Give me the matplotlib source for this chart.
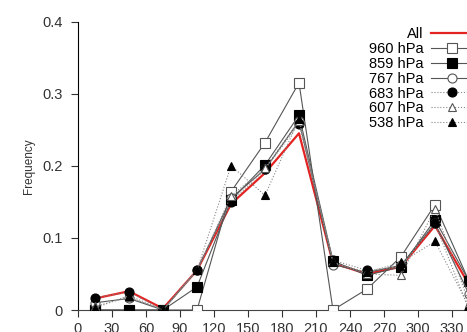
import matplotlib
matplotlib.use("Agg")
import matplotlib.pyplot as plt
import numpy as np

plt.rcParams['font.family'] = ['Liberation Sans', 'DejaVu Sans']

# bin centres (degrees)
bins = [15, 45, 75, 105, 135, 165, 195, 225, 255, 285, 315, 345]

freq_all = [0.016, 0.026, 0.002, 0.055, 0.147, 0.190, 0.245, 0.065, 0.050, 0.060, 0.117, 0.035]
freq_960 = [0.0, 0.0, 0.0, 0.0, 0.164, 0.232, 0.315, 0.0, 0.029, 0.074, 0.146, 0.040]
freq_859 = [0.0, 0.0, 0.0, 0.032, 0.152, 0.201, 0.270, 0.068, 0.048, 0.060, 0.125, 0.040]
freq_767 = [0.010, 0.016, 0.0, 0.055, 0.155, 0.195, 0.262, 0.063, 0.052, 0.062, 0.120, 0.022]
freq_683 = [0.017, 0.025, 0.0, 0.056, 0.150, 0.195, 0.258, 0.069, 0.055, 0.060, 0.120, 0.0]
freq_607 = [0.005, 0.018, 0.0, 0.055, 0.158, 0.197, 0.262, 0.066, 0.050, 0.048, 0.140, 0.010]
freq_538 = [0.003, 0.020, 0.0, 0.055, 0.200, 0.159, 0.265, 0.066, 0.052, 0.066, 0.095, 0.005]

levels = ['960 hPa', '859 hPa', '767 hPa', '683 hPa', '607 hPa', '538 hPa']
series = [freq_960, freq_859, freq_767, freq_683, freq_607, freq_538]
markers = ['s', 's', 'o', 'o', '^', '^']
filled = [False, True, False, True, False, True]
styles = ['-', '-', '-', ':', ':', ':']

W, H = 467, 332
fig = plt.figure(figsize=(W / 100, H / 100), dpi=100)
# axes run past the right/bottom edge of the picture (cropped original)
ax = fig.add_axes([78 / W, 22 / H, 408 / W, 288.5 / H])

ax.plot(bins, freq_all, color='#e32222', lw=1.6, label='All', zorder=2)
for name, y, m, f, ls in zip(levels, series, markers, filled, styles):
    ax.plot(bins, y, linestyle=ls, color='#555555' if ls == '-' else '#888888',
            lw=0.8, marker=m, markersize=6.5 if m != '^' else 6,
            markerfacecolor='black' if f else 'white',
            markeredgecolor='black' if f else '#555555', markeredgewidth=0.8,
            label=name, zorder=3)

ax.set_xlim(0, 360)
ax.set_ylim(0, 0.4)
ax.set_xticks(np.arange(0, 361, 30))
ax.set_yticks([0, 0.1, 0.2, 0.3, 0.4])
ax.set_yticklabels(['0', '0.1', '0.2', '0.3', '0.4'])
ax.tick_params(labelsize=10.5, length=5, width=0.8, colors='#333333')
ax.tick_params(axis='y', pad=6)
ax.spines['top'].set_visible(False)
ax.spines['right'].set_visible(False)
ax.spines['left'].set_color('black')
ax.spines['bottom'].set_color('#444444')
ax.set_ylabel('Frequency', fontsize=8.5, color='#333333', labelpad=5)

fig.legend(loc='upper right', bbox_to_anchor=(472 / W, 1 - 27 / H),
           frameon=False, markerfirst=False, numpoints=1, fontsize=10.5,
           handlelength=2.8, handletextpad=0.55, labelspacing=0.06,
           borderpad=0, borderaxespad=0)

fig.savefig('out.png', dpi=100)
